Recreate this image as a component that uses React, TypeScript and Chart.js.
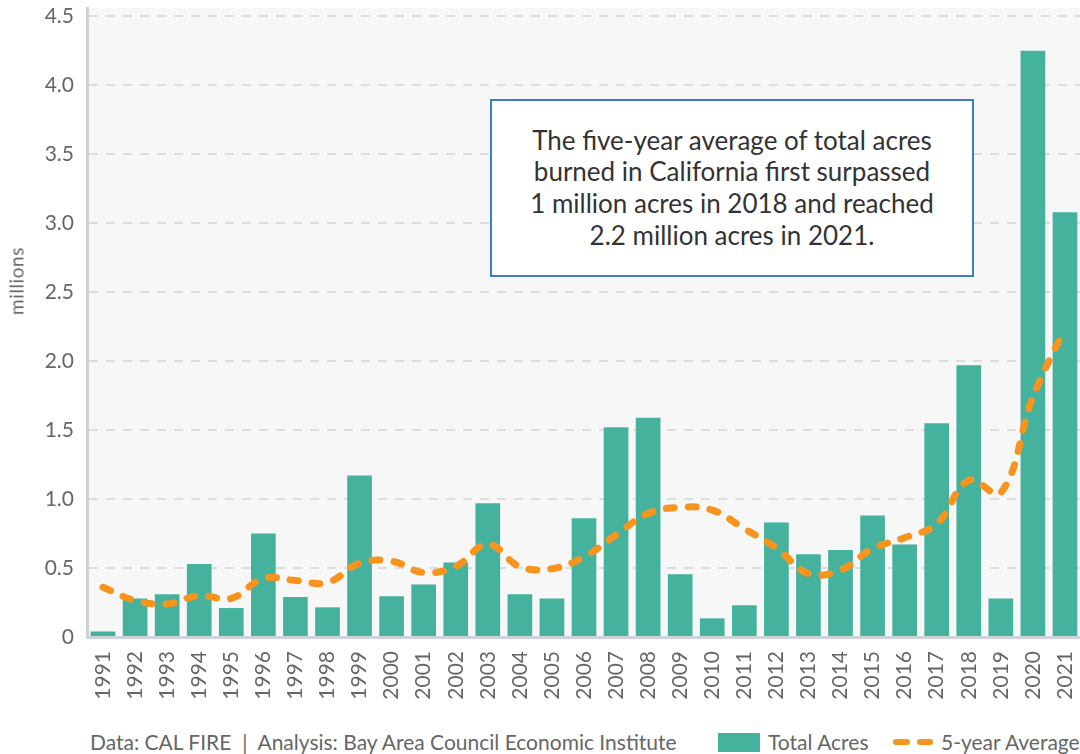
import React, { useEffect, useRef } from "react";
import { Chart, registerables } from "chart.js";

Chart.register(...registerables);

const years = [
  "1991", "1992", "1993", "1994", "1995", "1996", "1997", "1998", "1999", "2000",
  "2001", "2002", "2003", "2004", "2005", "2006", "2007", "2008", "2009", "2010",
  "2011", "2012", "2013", "2014", "2015", "2016", "2017", "2018", "2019", "2020", "2021",
];

const totalAcres = [
  0.04, 0.28, 0.31, 0.53, 0.21, 0.75, 0.29, 0.215, 1.17, 0.295,
  0.38, 0.54, 0.97, 0.31, 0.28, 0.86, 1.52, 1.59, 0.455, 0.135,
  0.23, 0.83, 0.6, 0.63, 0.88, 0.67, 1.55, 1.97, 0.28, 4.25, 3.08,
];

const fiveYearAverage = [
  0.36, 0.265, 0.24, 0.3, 0.28, 0.425, 0.41, 0.395, 0.535, 0.55,
  0.467, 0.512, 0.672, 0.51, 0.495, 0.58, 0.74, 0.895, 0.94, 0.92,
  0.785, 0.645, 0.46, 0.485, 0.64, 0.72, 0.82, 1.135, 1.045, 1.74, 2.235,
];

const yTicks = [0, 0.5, 1.0, 1.5, 2.0, 2.5, 3.0, 3.5, 4.0, 4.5];

const annotationLines = [
  "The five-year average of total acres",
  "burned in California first surpassed",
  "1 million acres in 2018 and reached",
  "2.2 million acres in 2021.",
];

const TEAL = "#45b29d";
const ORANGE = "#f7941e";
const GRAY_TEXT = "#666666";
const FONT = "Lato, 'Open Sans', 'DejaVu Sans', sans-serif";

const plotBackground = {
  id: "plotBackground",
  beforeDraw(chart: any) {
    const { ctx, chartArea } = chart;
    if (!chartArea) return;
    ctx.save();
    ctx.fillStyle = "#f7f7f7";
    ctx.fillRect(chartArea.left, chartArea.top, chartArea.right - chartArea.left, chartArea.bottom - chartArea.top);
    ctx.restore();
  },
};

export default function App() {
  const canvasRef = useRef<HTMLCanvasElement | null>(null);

  useEffect(() => {
    if (!canvasRef.current) return;
    const chart = new Chart(canvasRef.current, {
      type: "bar",
      data: {
        labels: years,
        datasets: [
          {
            type: "line",
            label: "5-year Average",
            data: fiveYearAverage,
            borderColor: ORANGE,
            backgroundColor: ORANGE,
            borderWidth: 7,
            borderDash: [8, 14],
            borderCapStyle: "round",
            borderJoinStyle: "round",
            tension: 0.4,
            pointRadius: 0,
            pointHoverRadius: 0,
            fill: false,
            order: 0,
          } as any,
          {
            type: "bar",
            label: "Total Acres",
            data: totalAcres,
            backgroundColor: TEAL,
            categoryPercentage: 1,
            barPercentage: 0.77,
            order: 1,
          } as any,
        ],
      },
      options: {
        animation: false,
        responsive: true,
        maintainAspectRatio: false,
        layout: { padding: { top: 8, left: 0, right: 0, bottom: 0 } },
        plugins: {
          legend: { display: false },
          tooltip: { enabled: false },
        },
        scales: {
          x: {
            offset: true,
            grid: { display: false },
            border: { display: true, color: "#cfd3d8", width: 3 },
            ticks: {
              color: GRAY_TEXT,
              font: { family: FONT, size: 21 },
              maxRotation: 90,
              minRotation: 90,
              padding: 6,
              autoSkip: false,
            },
            afterFit: (scale: any) => {
              scale.height = 73;
              scale.paddingLeft = 0;
              scale.paddingRight = 0;
            },
          },
          y: {
            min: 0,
            max: 4.56,
            afterBuildTicks: (scale: any) => {
              scale.ticks = yTicks.map((v) => ({ value: v }));
            },
            afterFit: (scale: any) => {
              scale.width = 87;
              scale.paddingTop = 0;
              scale.paddingBottom = 0;
            },
            grid: { color: "#dddddd", lineWidth: 2, drawTicks: false },
            border: { display: true, color: "#cfd3d8", width: 3, dash: [9, 8] },
            ticks: {
              color: GRAY_TEXT,
              font: { family: FONT, size: 21 },
              padding: 13,
              callback: (v: any) => (Number(v) === 0 ? "0" : Number(v).toFixed(1)),
            },
          },
        },
      },
      plugins: [plotBackground],
    });
    return () => chart.destroy();
  }, []);

  const textStyle = {
    position: "absolute" as const,
    top: 731,
    height: 22,
    lineHeight: "22px",
    fontSize: 21,
    color: GRAY_TEXT,
    whiteSpace: "pre" as const,
  };

  return (
    <div
      style={{
        position: "fixed",
        left: 0,
        top: 0,
        width: 1080,
        height: 754,
        overflow: "hidden",
        background: "#ffffff",
        fontFamily: FONT,
      }}
    >
      <div style={{ position: "absolute", left: 0, top: 0, width: 1081, height: 710 }}>
        <canvas ref={canvasRef} />
      </div>

      <div
        style={{
          position: "absolute",
          left: 16,
          top: 281,
          transform: "translate(-50%, -50%) rotate(-90deg)",
          fontSize: 19,
          letterSpacing: 0.6,
          color: GRAY_TEXT,
          whiteSpace: "nowrap",
        }}
      >
        millions
      </div>

      <div
        style={{
          position: "absolute",
          left: 490,
          top: 99,
          width: 484,
          height: 178,
          boxSizing: "border-box",
          border: "2px solid #3d7cc4",
          background: "#ffffff",
          display: "flex",
          alignItems: "center",
          justifyContent: "center",
          textAlign: "center",
          fontSize: 26,
          lineHeight: "31.7px",
          color: "#333333",
        }}
      >
        <div>
          {annotationLines.map((l, i) => (
            <div key={i}>{l}</div>
          ))}
        </div>
      </div>

      <div style={{ ...textStyle, left: 90 }}>
        {"Data: CAL FIRE  |  Analysis: Bay Area Council Economic Institute"}
      </div>

      <div style={{ position: "absolute", left: 718, top: 733, width: 42, height: 19, background: TEAL }} />
      <div style={{ ...textStyle, left: 768 }}>Total Acres</div>
      <div style={{ position: "absolute", left: 893, top: 739, width: 17, height: 6, borderRadius: 3, background: ORANGE }} />
      <div style={{ position: "absolute", left: 917, top: 739, width: 16, height: 6, borderRadius: 3, background: ORANGE }} />
      <div style={{ ...textStyle, left: 941 }}>5-year Average</div>
    </div>
  );
}
